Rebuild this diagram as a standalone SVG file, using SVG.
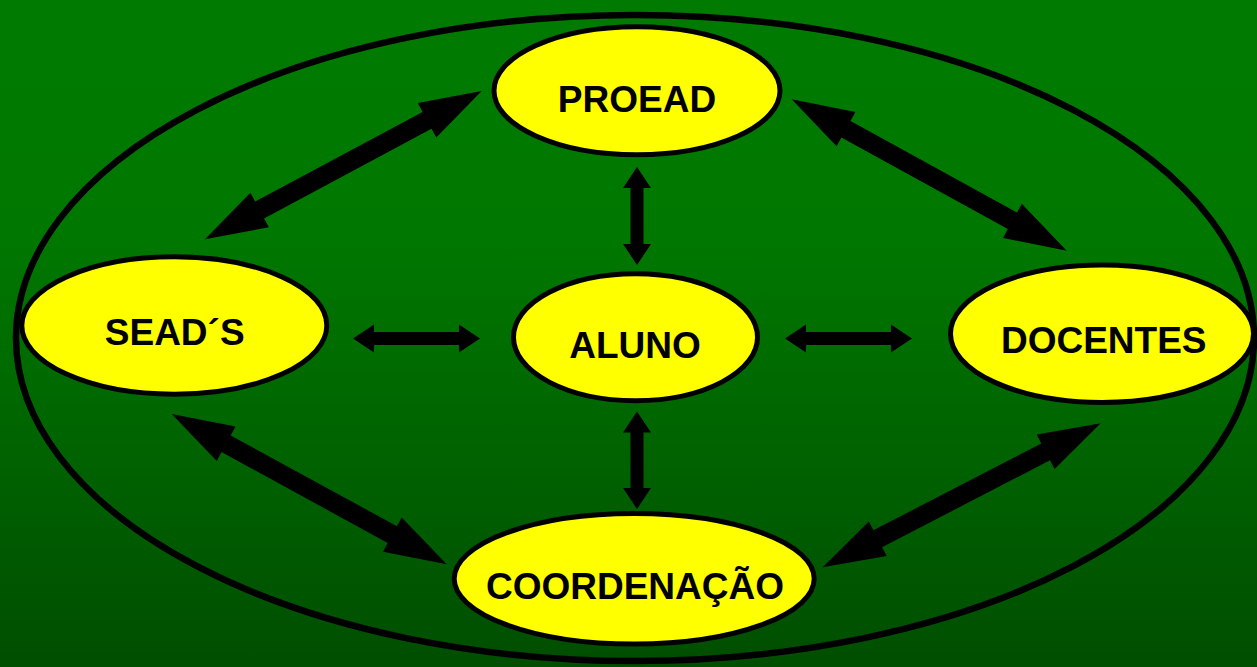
<svg xmlns="http://www.w3.org/2000/svg" width="1257" height="667" viewBox="0 0 1257 667">
  <defs>
    <linearGradient id="bg" x1="0" y1="0" x2="0" y2="1">
      <stop offset="0" stop-color="#007a00"/>
      <stop offset="0.35" stop-color="#007800"/>
      <stop offset="1" stop-color="#004e00"/>
    </linearGradient>
    <style>
      .node { fill: #ffff00; stroke: #000; stroke-width: 5; }
      .lbl { font-family: "Liberation Sans", Arial, sans-serif; font-weight: bold; font-size: 37px; fill: #000; text-anchor: middle; }
      .arr { fill: #000; stroke: none; }
    </style>
  </defs>
  <rect x="0" y="0" width="1257" height="667" fill="url(#bg)"/>
  <ellipse id="frame" cx="635" cy="338" rx="619" ry="323" fill="none" stroke="#000" stroke-width="6.5"/>

  <g id="connectors">
    <polygon class="arr" points="205,239.3 268.9,227.2 264.1,218.4 431.5,128.7 436.3,137.5 481.7,91 417.8,103.1 422.6,111.9 255.2,201.6 250.4,192.8"/>
    <polygon class="arr" points="791.7,99.3 836.6,146.3 841.4,137.5 1007.8,229.1 1003,237.9 1066.7,250.7 1021.8,203.7 1017,212.5 850.6,120.9 855.4,112.1"/>
    <polygon class="arr" points="171.7,414 216.8,460.9 221.5,452.1 387.7,542.9 383,551.7 446.7,564.3 401.7,517.5 396.9,526.2 230.7,435.4 235.5,426.6"/>
    <polygon class="arr" points="822.7,567.3 886.7,556.1 882.1,547.2 1050,460.3 1054.6,469.1 1100.7,423.3 1036.7,434.5 1041.3,443.4 873.4,530.3 868.8,521.5"/>
    <polygon class="arr" points="637,167 651,188 643.5,188 643.5,244 651,244 637,265 623,244 630.5,244 630.5,188 623,188"/>
    <polygon class="arr" points="637,411.5 651,432.5 643.5,432.5 643.5,488 651,488 637,509 623,488 630.5,488 630.5,432.5 623,432.5"/>
    <polygon class="arr" points="353,338.5 374,324.5 374,332 459,332 459,324.5 480,338.5 459,352.5 459,345 374,345 374,352.5"/>
    <polygon class="arr" points="785,338.5 806,324.5 806,332 891,332 891,324.5 912,338.5 891,352.5 891,345 806,345 806,352.5"/>
  </g>

  <g id="proead">
    <ellipse class="node" cx="637" cy="90.7" rx="143" ry="64"/>
    <text class="lbl" x="637" y="111.7">PROEAD</text>
  </g>
  <g id="seads">
    <ellipse class="node" cx="174.3" cy="325.5" rx="152.5" ry="68.7"/>
    <text class="lbl" x="174.7" y="345">SEAD´S</text>
  </g>
  <g id="aluno">
    <ellipse class="node" cx="635.5" cy="337.2" rx="122" ry="63.5"/>
    <text class="lbl" x="635" y="358.3">ALUNO</text>
  </g>
  <g id="docentes">
    <ellipse class="node" cx="1102" cy="333.7" rx="151.5" ry="68.8"/>
    <text class="lbl" x="1103.7" y="353.3">DOCENTES</text>
  </g>
  <g id="coordenacao">
    <ellipse class="node" cx="634.2" cy="578.8" rx="180" ry="65.3"/>
    <text class="lbl" x="635" y="599">COORDENAÇÃO</text>
  </g>
</svg>
